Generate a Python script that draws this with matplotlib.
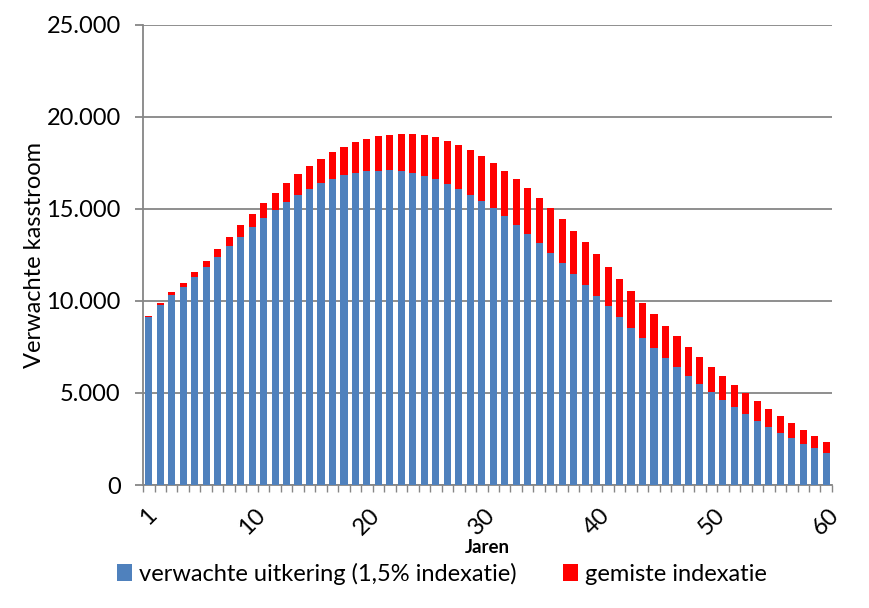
import matplotlib
matplotlib.use("Agg")
import matplotlib.pyplot as plt
import numpy as np
from matplotlib.ticker import FuncFormatter, MultipleLocator, FixedLocator

years = list(range(1, 61))
uitkering = [9110, 9785, 10330, 10760, 11310, 11850, 12390, 13010, 13500, 14025,
             14530, 14970, 15400, 15760, 16090, 16420, 16630, 16850, 16960, 17070,
             17070, 17120, 17070, 16960, 16800, 16630, 16360, 16090, 15760, 15440,
             15060, 14620, 14130, 13640, 13160, 12610, 12070, 11470, 10870, 10270,
             9740, 9150, 8550, 8010, 7470, 6920, 6430, 5940, 5510, 5070,
             4640, 4260, 3880, 3500, 3170, 2850, 2570, 2250, 2030, 1760]
totaal = [9190, 9910, 10510, 11000, 11580, 12200, 12830, 13500, 14130, 14730,
          15330, 15870, 16420, 16910, 17340, 17720, 18100, 18370, 18650, 18810,
          18970, 19030, 19080, 19080, 19030, 18920, 18700, 18480, 18210, 17880,
          17500, 17070, 16630, 16150, 15600, 15060, 14460, 13810, 13210, 12560,
          11860, 11220, 10560, 9910, 9310, 8660, 8120, 7520, 6980, 6430,
          5940, 5450, 5020, 4580, 4150, 3770, 3390, 3010, 2680, 2360]
gemist = [t - u for t, u in zip(totaal, uitkering)]
xtick_labels = [1, 10, 20, 30, 40, 50, 60]

plt.rcParams['font.family'] = ['Lato', 'DejaVu Sans']

fig = plt.figure(figsize=(8.7, 6.08), dpi=100)
ax = fig.add_axes([0.1644, 0.2023, 0.7919, 0.7566])

blue = '#4F81BD'
red = '#FF0000'
ax.bar(years, uitkering, width=0.62, color=blue, label='verwachte uitkering (1,5% indexatie)', zorder=3)
ax.bar(years, gemist, width=0.62, bottom=uitkering, color=red, label='gemiste indexatie', zorder=3)

ax.set_xlim(0.5, 60.5)
ax.set_ylim(0, 25000)
ax.yaxis.set_major_locator(MultipleLocator(5000))
ax.yaxis.set_major_formatter(FuncFormatter(lambda v, p: f"{int(v):,}".replace(",", ".")))
ax.grid(axis='y', color='#868686', linewidth=1.3, zorder=0)

ax.set_xticks(xtick_labels)
ax.set_xticklabels([str(v) for v in xtick_labels], rotation=45, fontsize=17)
ax.xaxis.set_minor_locator(FixedLocator(np.arange(0.5, 61, 1)))
ax.tick_params(axis='x', which='major', length=0, pad=14)
ax.tick_params(axis='x', which='minor', length=5, color='#868686', width=1)
ax.tick_params(axis='y', length=6, color='#868686', width=1.3, labelsize=17, pad=10)

for s in ['top', 'right']:
    ax.spines[s].set_visible(False)
for s in ['left', 'bottom']:
    ax.spines[s].set_color('#868686')
    ax.spines[s].set_linewidth(1.3)

ax.set_ylabel('Verwachte kasstroom', fontsize=17, labelpad=1)
ax.set_xlabel('Jaren', fontsize=13.5, fontweight='bold', labelpad=0)

fig.legend(loc='center', bbox_to_anchor=(0.508, 0.056), ncol=2, frameon=False,
           fontsize=17, handlelength=0.6, handleheight=0.7, handletextpad=0.3,
           columnspacing=2.0)

fig.savefig('out.png', dpi=100)
